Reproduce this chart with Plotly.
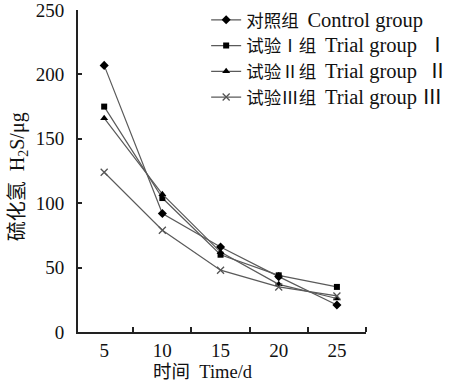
import plotly.graph_objects as go

days = [5, 10, 15, 20, 25]
control = [207, 92, 66, 43, 21]
trial1 = [175, 104, 60, 44, 35]
trial2 = [166, 107, 62, 37, 26]
trial3 = [124, 79, 48, 35, 28]

names_cn = ["对照组", "试验Ⅰ组", "试验Ⅱ组", "试验Ⅲ组"]
names_en = ["Control group", "Trial group  Ⅰ", "Trial group  Ⅱ", "Trial group Ⅲ"]
y_ticks = [0, 50, 100, 150, 200, 250]
x_ticks = [5, 10, 15, 20, 25]
x_minor = [7.5, 12.5, 17.5, 22.5, 27.5]

FONT = "Liberation Serif, Times New Roman, Noto Sans CJK SC, serif"

fig = go.Figure()
styles = [
    dict(symbol="diamond", size=7, color="black"),
    dict(symbol="square", size=6, color="black"),
    dict(symbol="triangle-up", size=7, color="black"),
    dict(symbol="x-thin", size=7, color="#555555", line=dict(width=1.3, color="#555555")),
]
for cn, en, vals, mk in zip(names_cn, names_en, [control, trial1, trial2, trial3], styles):
    label = f'{cn}  <span style="font-size:20.5px">{en}</span>'
    fig.add_trace(go.Scatter(x=days, y=vals, name=label, mode="lines+markers",
                             line=dict(color="#5a5a5a", width=1.2), marker=mk))

fig.update_layout(
    width=458, height=383,
    margin=dict(l=78, r=92, t=10, b=51, autoexpand=False),
    paper_bgcolor="white", plot_bgcolor="white",
    font=dict(family=FONT, size=18, color="#111111"),
    showlegend=True,
    legend=dict(x=0.445, y=0.995, xanchor="left", yanchor="top", yref="container",
                bgcolor="rgba(0,0,0,0)", font=dict(size=17.5), tracegroupgap=0,
                itemwidth=30),
    xaxis=dict(range=[2.75, 27.5], tickvals=x_ticks, ticks="", showgrid=False,
               zeroline=False, showline=True, linecolor="#222", linewidth=2,
               tickfont=dict(size=19),
               minor=dict(tickvals=x_minor, ticks="inside", ticklen=5, tickcolor="#222", tickwidth=1.5)),
    yaxis=dict(range=[0, 250], tickvals=y_ticks, ticks="inside", ticklen=4,
               tickcolor="#222", tickwidth=1.5, showgrid=False, zeroline=False,
               showline=True, linecolor="#222", linewidth=2, tickfont=dict(size=19),
               ticklabelstandoff=8, ticklabeloverflow="allow"),
)
fig.add_annotation(text="硫化氢  H<sub>2</sub>S/μg", xref="paper", yref="paper",
                   x=-0.208, y=0.481, textangle=-90, showarrow=False,
                   xanchor="center", yanchor="middle", font=dict(size=20))
fig.add_annotation(text="时间  Time/d", xref="paper", yref="paper",
                   x=0.434, y=-0.124, showarrow=False,
                   xanchor="center", yanchor="middle", font=dict(size=18.5))

fig.write_html("out.html", config={"displayModeBar": False},
               post_script="document.body.style.margin='0px';")
